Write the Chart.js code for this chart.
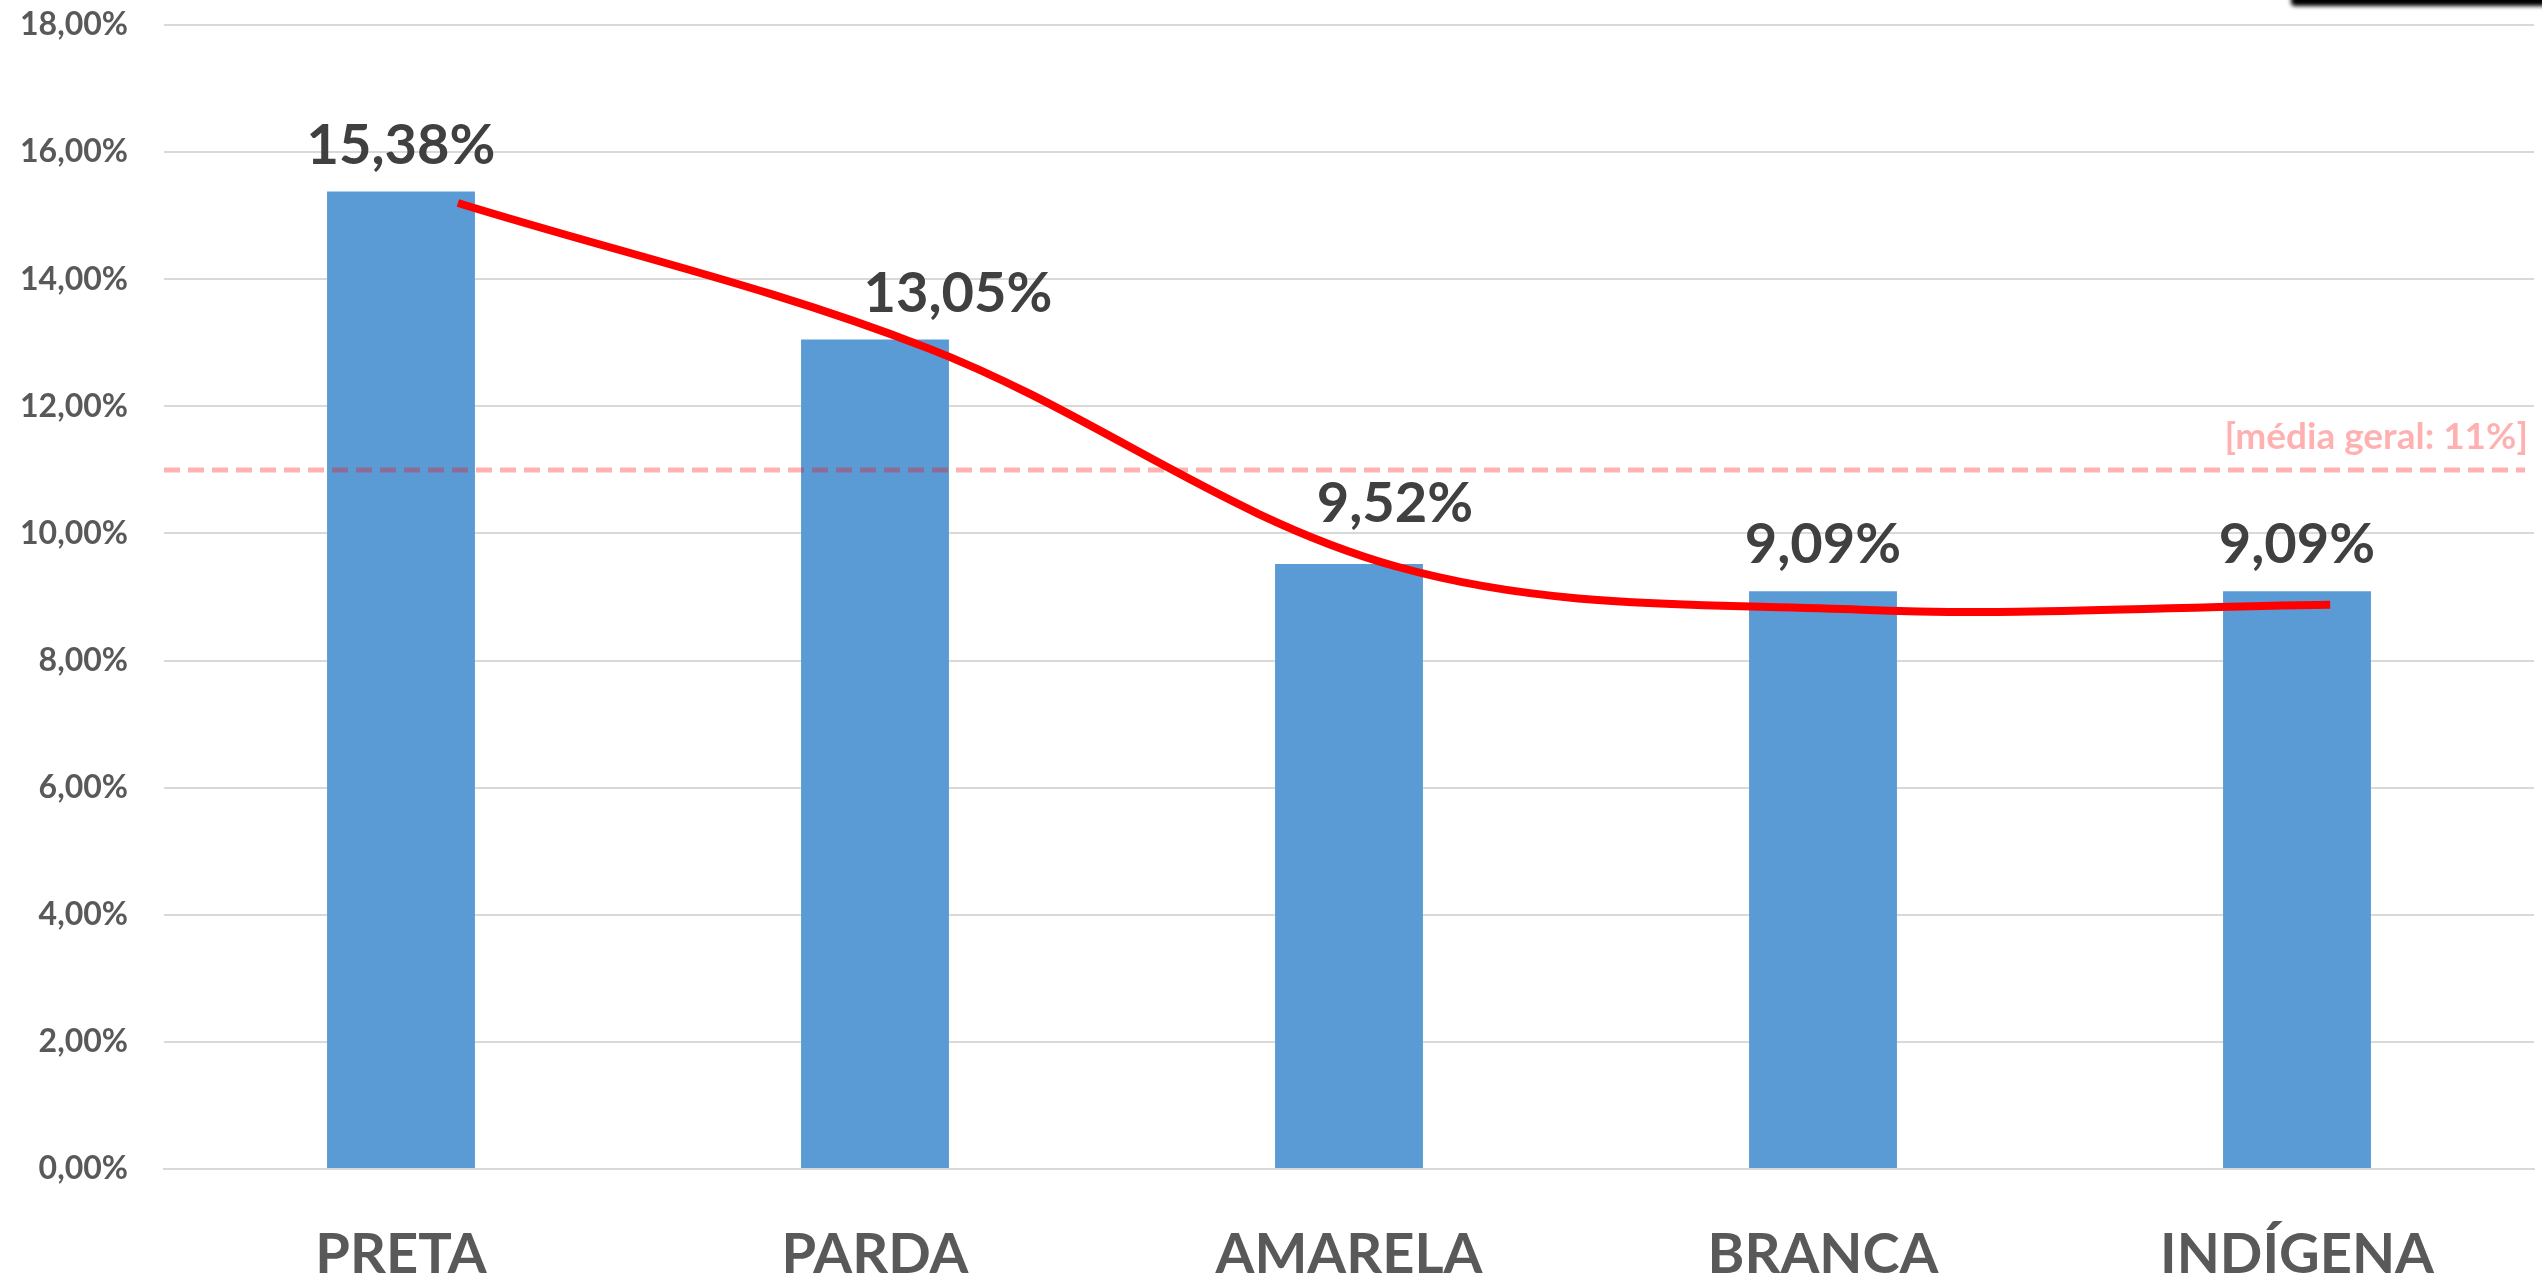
<!DOCTYPE html>
<html><head><meta charset="utf-8">
<script src="https://cdn.jsdelivr.net/npm/chart.js@4.4.1/dist/chart.umd.min.js"></script>
<style>
html,body{margin:0;padding:0;background:#fff;overflow:hidden;}
#wrap{position:relative;width:2542px;height:1278px;overflow:hidden;}
#shade{position:absolute;left:2291px;top:-20px;width:300px;height:26px;background:#000;filter:blur(2px);border-radius:4px;}
</style></head><body>
<div id="wrap"><canvas id="c" width="2542" height="1278"></canvas><div id="shade"></div></div>
<script>
const categories = ['PRETA', 'PARDA', 'AMARELA', 'BRANCA', 'INDÍGENA'];
const values = [15.38, 13.05, 9.52, 9.09, 9.09];
const trendX = [0.12, 1.11, 2.10, 3.08, 4.07];
const trendY = [15.20, 12.92, 9.48, 8.80, 8.88];
const yTicks = [0, 2, 4, 6, 8, 10, 12, 14, 16, 18];
const meanValue = 11;
const meanLabel = '[média geral: 11%]';

const fmt = v => v.toFixed(2).replace('.', ',') + '%';
const FONT = 'Lato';

const overlay = {
  id: 'overlay',
  afterDatasetDraw(chart, args, opts) {
    if (args.index !== 0) return;
    const ctx = chart.ctx, a = chart.chartArea;
    const y = chart.scales.y.getPixelForValue(meanValue);
    ctx.save();
    ctx.strokeStyle = 'rgba(255,0,0,0.3)';
    ctx.lineWidth = 5;
    ctx.setLineDash([16, 8]);
    ctx.beginPath();
    ctx.moveTo(a.left, y);
    ctx.lineTo(a.right - 9, y);
    ctx.stroke();
    ctx.setLineDash([]);
    ctx.fillStyle = 'rgba(255,0,0,0.31)';
    ctx.font = 'bold 37px ' + FONT;
    ctx.textAlign = 'right';
    ctx.textBaseline = 'alphabetic';
    ctx.fillText(meanLabel, a.right - 6, y - 21);
    ctx.restore();
  },
  afterDatasetsDraw(chart, args, opts) {
    const ctx = chart.ctx;
    const meta = chart.getDatasetMeta(0);
    ctx.save();
    ctx.font = 'bold 56px ' + FONT;
    ctx.fillStyle = '#404040';
    ctx.textAlign = 'center';
    ctx.textBaseline = 'alphabetic';
    meta.data.forEach((bar, i) => {
      const dx = opts.shiftX[i] || 0, dy = opts.shiftY[i] || 0;
      ctx.fillText(fmt(values[i]), bar.x + dx, bar.y - 28 + dy);
    });
    ctx.restore();
  }
};

new Chart(document.getElementById('c'), {
  type: 'bar',
  data: {
    labels: categories,
    datasets: [
      {
        type: 'bar',
        data: values,
        backgroundColor: '#5B9BD5',
        categoryPercentage: 1,
        barPercentage: 0.312,
        grouped: false,
        order: 2
      },
      {
        type: 'line',
        xAxisID: 'xl',
        data: trendX.map((x, i) => ({ x: x, y: trendY[i] })),
        borderColor: '#FF0000',
        borderWidth: 8,
        borderCapStyle: 'butt',
        tension: 0.35,
        pointRadius: 0,
        fill: false,
        order: 1
      }
    ]
  },
  plugins: [overlay],
  options: {
    responsive: false,
    animation: false,
    devicePixelRatio: 1,
    layout: { padding: { top: 25, right: 8, left: 0, bottom: 0 } },
    plugins: {
      legend: { display: false },
      tooltip: { enabled: false },
      overlay: { shiftX: [0, 83, 46, 0, 0], shiftY: [0, 0, -14, 0, 0] }
    },
    scales: {
      x: {
        type: 'category',
        grid: { display: false, drawTicks: false },
        border: { display: true, color: '#D9D9D9', width: 2 },
        ticks: {
          color: '#595959',
          font: { family: FONT, size: 56, weight: 'bold', lineHeight: 1.2 },
          padding: 52,
          maxRotation: 0,
          autoSkip: false
        },
        afterFit(s) { s.height = 109; s.paddingLeft = 0; s.paddingRight = 0; }
      },
      xl: {
        type: 'linear',
        display: false,
        offset: false,
        min: -0.5,
        max: 4.5
      },
      y: {
        min: 0,
        max: 18,
        afterBuildTicks(s) { s.ticks = yTicks.map(v => ({ value: v })); },
        grid: { color: '#D9D9D9', lineWidth: 2, drawTicks: false },
        border: { display: false },
        ticks: {
          color: '#595959',
          font: { family: FONT, size: 32, weight: 'bold' },
          padding: 36,
          callback: v => fmt(v)
        },
        afterFit(s) { s.width = 164; s.paddingTop = 0; s.paddingBottom = 0; }
      }
    }
  }
});
</script>
</body></html>
